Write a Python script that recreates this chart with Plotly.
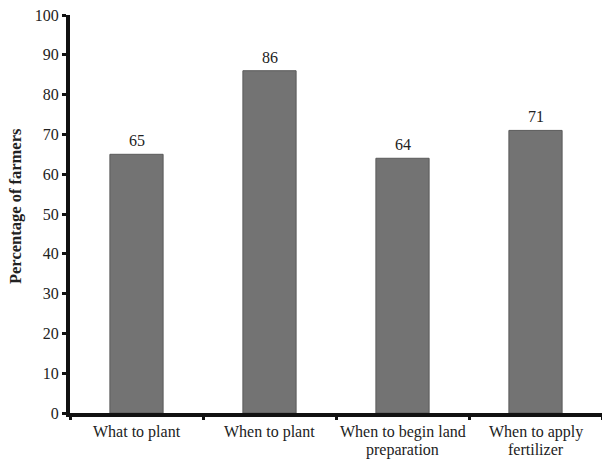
import plotly.graph_objects as go

categories = ["What to plant", "When to plant", "When to begin land<br>preparation", "When to apply<br>fertilizer"]
values = [65, 86, 64, 71]
y_ticks = [0, 10, 20, 30, 40, 50, 60, 70, 80, 90, 100]

FONT = "Times New Roman, Liberation Serif, Times, serif"

fig = go.Figure(go.Bar(
    x=categories, y=values,
    marker=dict(color="#737373", line=dict(color="#5a5a5a", width=1)),
    width=0.4,
))

for c, v in zip(categories, values):
    fig.add_annotation(x=c, y=v, text=str(v), showarrow=False, yanchor="bottom",
                       yshift=3, font=dict(family=FONT, size=16, color="#222"))

# category labels, one annotation per line for tighter line spacing
for c in categories:
    for i, line in enumerate(c.split("<br>")):
        fig.add_annotation(x=c, xref="x", yref="paper", y=0, text=line, showarrow=False,
                           yanchor="middle", yshift=-18.5 - 18 * i, borderpad=0,
                           font=dict(family=FONT, size=16, color="#222"))

fig.add_annotation(xref="paper", yref="y", x=-0.1034, y=52, text="<b>Percentage of farmers</b>",
                   textangle=-90, showarrow=False, xanchor="center", yanchor="middle",
                   font=dict(family=FONT, size=16.5, color="#222"))

fig.update_layout(
    width=602, height=459,
    margin=dict(l=70, r=0, t=15, b=46, autoexpand=False),
    paper_bgcolor="white", plot_bgcolor="white",
    font=dict(family=FONT, size=16, color="#222"),
    showlegend=False,
)
fig.update_xaxes(
    type="category", range=[-0.5, 3.5], automargin=False, showticklabels=False,
    showline=True, linecolor="#111", linewidth=4,
    ticks="outside", tickson="boundaries", ticklen=3, tickwidth=3, tickcolor="#111",
    showgrid=False,
)
fig.update_yaxes(
    range=[0, 100], tickvals=y_ticks, automargin=False,
    showline=True, linecolor="#111", linewidth=4,
    ticks="outside", ticklen=4, tickwidth=3, tickcolor="#111",
    showgrid=False, zeroline=False, tickfont=dict(size=16),
)

fig.write_html("out.html", config={"displayModeBar": False},
               post_script="document.body.style.margin='0';")
